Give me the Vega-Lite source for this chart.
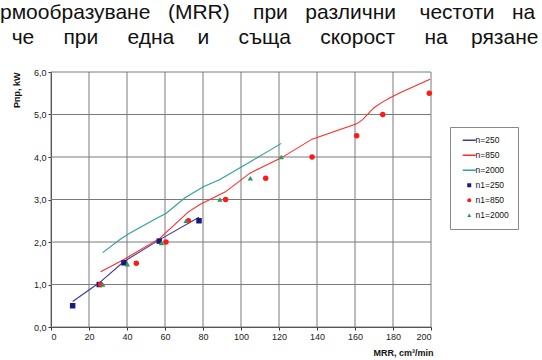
{
  "$schema": "https://vega.github.io/schema/vega-lite/v6.json",
  "width": 380,
  "height": 255,
  "autosize": "none",
  "padding": {"left": 51, "top": 72, "right": 111, "bottom": 33},
  "background": "white",
  "title": {
    "text": [
      "рмообразуване\u00a0\u00a0\u00a0(MRR)\u00a0\u00a0\u00a0\u00a0при\u00a0\u00a0\u00a0различни\u00a0\u00a0\u00a0\u00a0честоти\u00a0\u00a0\u00a0на",
      "\u200b\u00a0\u00a0че\u00a0\u00a0\u00a0\u00a0\u00a0при\u00a0\u00a0\u00a0\u00a0\u00a0една\u00a0\u00a0\u00a0\u00a0и\u00a0\u00a0\u00a0\u00a0\u00a0съща\u00a0\u00a0\u00a0\u00a0\u00a0скорост\u00a0\u00a0\u00a0\u00a0\u00a0на\u00a0\u00a0\u00a0\u00a0рязане"
    ],
    "anchor": "start",
    "frame": "group",
    "orient": "top",
    "dx": -51,
    "dy": -20,
    "offset": 0,
    "baseline": "top",
    "font": "Liberation Sans",
    "fontSize": 21,
    "fontWeight": "normal",
    "color": "#111",
    "lineHeight": 25
  },
  "data": {
    "values": [
      {"series": "n=250", "x": 11.4, "y": 0.6},
      {"series": "n=250", "x": 25.4, "y": 1.04},
      {"series": "n=250", "x": 38.4, "y": 1.54},
      {"series": "n=250", "x": 57.0, "y": 2.05},
      {"series": "n=250", "x": 77.9, "y": 2.58},
      {"series": "n=850", "x": 26.1, "y": 1.3},
      {"series": "n=850", "x": 38.4, "y": 1.59},
      {"series": "n=850", "x": 57.4, "y": 2.09},
      {"series": "n=850", "x": 60.5, "y": 2.22},
      {"series": "n=850", "x": 72.3, "y": 2.71},
      {"series": "n=850", "x": 78.4, "y": 2.88},
      {"series": "n=850", "x": 91.8, "y": 3.18},
      {"series": "n=850", "x": 104.7, "y": 3.62},
      {"series": "n=850", "x": 121.2, "y": 3.98},
      {"series": "n=850", "x": 137.4, "y": 4.42},
      {"series": "n=850", "x": 160.9, "y": 4.78},
      {"series": "n=850", "x": 164.0, "y": 4.88},
      {"series": "n=850", "x": 167.0, "y": 5.02},
      {"series": "n=850", "x": 170.0, "y": 5.16},
      {"series": "n=850", "x": 174.0, "y": 5.28},
      {"series": "n=850", "x": 178.0, "y": 5.38},
      {"series": "n=850", "x": 183.7, "y": 5.51},
      {"series": "n=850", "x": 199.5, "y": 5.83},
      {"series": "n=2000", "x": 27.2, "y": 1.75},
      {"series": "n=2000", "x": 36.3, "y": 2.06},
      {"series": "n=2000", "x": 40.7, "y": 2.19},
      {"series": "n=2000", "x": 55.6, "y": 2.56},
      {"series": "n=2000", "x": 60.5, "y": 2.67},
      {"series": "n=2000", "x": 70.5, "y": 3.04},
      {"series": "n=2000", "x": 80.2, "y": 3.3},
      {"series": "n=2000", "x": 88.9, "y": 3.47},
      {"series": "n=2000", "x": 106.5, "y": 3.93},
      {"series": "n=2000", "x": 121.2, "y": 4.32},
      {"series": "n1=250", "x": 11.4, "y": 0.5},
      {"series": "n1=250", "x": 25.4, "y": 1.0},
      {"series": "n1=250", "x": 38.4, "y": 1.51},
      {"series": "n1=250", "x": 57.0, "y": 2.02},
      {"series": "n1=250", "x": 77.9, "y": 2.5},
      {"series": "n1=850", "x": 26.1, "y": 1.0},
      {"series": "n1=850", "x": 44.9, "y": 1.5},
      {"series": "n1=850", "x": 60.5, "y": 2.0},
      {"series": "n1=850", "x": 72.3, "y": 2.5},
      {"series": "n1=850", "x": 91.9, "y": 3.0},
      {"series": "n1=850", "x": 113.0, "y": 3.5},
      {"series": "n1=850", "x": 137.4, "y": 4.0},
      {"series": "n1=850", "x": 160.9, "y": 4.5},
      {"series": "n1=850", "x": 174.6, "y": 5.0},
      {"series": "n1=850", "x": 199.1, "y": 5.5},
      {"series": "n1=2000", "x": 27.2, "y": 1.0},
      {"series": "n1=2000", "x": 40.2, "y": 1.48},
      {"series": "n1=2000", "x": 58.2, "y": 1.98},
      {"series": "n1=2000", "x": 71.1, "y": 2.5},
      {"series": "n1=2000", "x": 88.9, "y": 3.0},
      {"series": "n1=2000", "x": 104.9, "y": 3.5},
      {"series": "n1=2000", "x": 121.2, "y": 4.0}
    ]
  },
  "layer": [
    {
      "data": {"values": [{"x": 0}, {"x": 20}, {"x": 40}, {"x": 60}, {"x": 80}, {"x": 100}, {"x": 120}, {"x": 140}, {"x": 160}, {"x": 180}, {"x": 200}]},
      "mark": {"type": "rule", "color": "#7a7a7a", "strokeWidth": 1},
      "encoding": {
        "x": {
          "field": "x",
          "type": "quantitative",
          "scale": {"domain": [0, 200], "nice": false},
          "axis": {
            "grid": false,
            "values": [0, 20, 40, 60, 80, 100, 120, 140, 160, 180, 200],
            "format": "d",
            "tickSize": 3,
            "tickColor": "#333",
            "labelPadding": 2,
            "title": "MRR, cm³/min",
            "titleX": 382,
            "titleY": 25,
            "titleAlign": "right",
            "titleBaseline": "middle",
            "titleAngle": 0
          }
        }
      }
    },
    {
      "data": {"values": [{"y": 0}, {"y": 1}, {"y": 2}, {"y": 3}, {"y": 4}, {"y": 5}, {"y": 6}]},
      "mark": {"type": "rule", "color": "#7a7a7a", "strokeWidth": 1},
      "encoding": {
        "y": {
          "field": "y",
          "type": "quantitative",
          "scale": {"domain": [0, 6], "nice": false},
          "axis": {
            "grid": false,
            "values": [0, 1, 2, 3, 4, 5, 6],
            "labelExpr": "replace(format(datum.value, '.1f'), '.', ',')",
            "tickSize": 3,
            "tickColor": "#333",
            "labelPadding": 2,
            "title": "Рпр, kW",
            "titleAngle": -90,
            "titleX": -32,
            "titleY": 0,
            "titleAlign": "right",
            "titleBaseline": "alphabetic"
          }
        }
      }
    },
    {
      "transform": [{"filter": "indexof(['n=250','n=850','n=2000'], datum.series) >= 0"}],
      "mark": {"type": "line", "strokeWidth": 1.1},
      "encoding": {
        "x": {
          "field": "x",
          "type": "quantitative",
          "scale": {"domain": [0, 200], "nice": false},
          "axis": {
            "grid": false,
            "values": [0, 20, 40, 60, 80, 100, 120, 140, 160, 180, 200],
            "format": "d",
            "tickSize": 3,
            "tickColor": "#333",
            "labelPadding": 2,
            "title": "MRR, cm³/min",
            "titleX": 382,
            "titleY": 25,
            "titleAlign": "right",
            "titleBaseline": "middle",
            "titleAngle": 0
          }
        },
        "y": {
          "field": "y",
          "type": "quantitative",
          "scale": {"domain": [0, 6], "nice": false},
          "axis": {
            "grid": false,
            "values": [0, 1, 2, 3, 4, 5, 6],
            "labelExpr": "replace(format(datum.value, '.1f'), '.', ',')",
            "tickSize": 3,
            "tickColor": "#333",
            "labelPadding": 2,
            "title": "Рпр, kW",
            "titleAngle": -90,
            "titleX": -32,
            "titleY": 0,
            "titleAlign": "right",
            "titleBaseline": "alphabetic"
          }
        },
        "color": {
          "field": "series",
          "type": "nominal",
          "scale": {
            "domain": ["n=250", "n=850", "n=2000", "n1=250", "n1=850", "n1=2000"],
            "range": ["#3a3a9c", "#ff2a2a", "#2f9e9e", "#1a1a78", "#ff1a1a", "#2e9a5c"]
          },
          "legend": {
            "title": null,
            "orient": "none",
            "legendX": 399,
            "legendY": 55,
            "padding": 9,
            "symbolOffset": 6,
            "symbolSize": 170,
            "rowPadding": 6,
            "labelOffset": 2,
            "labelFont": "Liberation Sans",
            "labelFontSize": 8.5,
            "labelColor": "#111",
            "strokeColor": "#888",
            "fillColor": "white",
            "values": ["n=250", "n=850", "n=2000", "n1=250", "n1=850", "n1=2000"],
            "encode": {
              "symbols": {
                "update": {
                  "shape": {"signal": "datum.value == 'n1=250' ? 'square' : datum.value == 'n1=850' ? 'circle' : datum.value == 'n1=2000' ? 'triangle-up' : 'stroke'"},
                  "fill": {"signal": "indexof(['n=250','n=850','n=2000'], datum.value) >= 0 ? 'transparent' : scale('color', datum.value)"},
                  "stroke": {"signal": "scale('color', datum.value)"},
                  "strokeWidth": {"signal": "indexof(['n=250','n=850','n=2000'], datum.value) >= 0 ? 1.5 : 0"},
                  "size": {"signal": "indexof(['n=250','n=850','n=2000'], datum.value) >= 0 ? 170 : 16"},
                  "opacity": {"value": 1}
                }
              }
            }
          }
        }
      }
    },
    {
      "transform": [{"filter": "indexof(['n1=250','n1=850','n1=2000'], datum.series) >= 0"}],
      "mark": {"type": "point", "filled": true, "opacity": 1, "size": 30},
      "encoding": {
        "x": {
          "field": "x",
          "type": "quantitative",
          "scale": {"domain": [0, 200], "nice": false},
          "axis": {
            "grid": false,
            "values": [0, 20, 40, 60, 80, 100, 120, 140, 160, 180, 200],
            "format": "d",
            "tickSize": 3,
            "tickColor": "#333",
            "labelPadding": 2,
            "title": "MRR, cm³/min",
            "titleX": 382,
            "titleY": 25,
            "titleAlign": "right",
            "titleBaseline": "middle",
            "titleAngle": 0
          }
        },
        "y": {
          "field": "y",
          "type": "quantitative",
          "scale": {"domain": [0, 6], "nice": false},
          "axis": {
            "grid": false,
            "values": [0, 1, 2, 3, 4, 5, 6],
            "labelExpr": "replace(format(datum.value, '.1f'), '.', ',')",
            "tickSize": 3,
            "tickColor": "#333",
            "labelPadding": 2,
            "title": "Рпр, kW",
            "titleAngle": -90,
            "titleX": -32,
            "titleY": 0,
            "titleAlign": "right",
            "titleBaseline": "alphabetic"
          }
        },
        "color": {
          "field": "series",
          "type": "nominal",
          "scale": {
            "domain": ["n=250", "n=850", "n=2000", "n1=250", "n1=850", "n1=2000"],
            "range": ["#3a3a9c", "#ff2a2a", "#2f9e9e", "#1a1a78", "#ff1a1a", "#2e9a5c"]
          },
          "legend": {
            "title": null,
            "orient": "none",
            "legendX": 399,
            "legendY": 55,
            "padding": 9,
            "symbolOffset": 6,
            "symbolSize": 170,
            "rowPadding": 6,
            "labelOffset": 2,
            "labelFont": "Liberation Sans",
            "labelFontSize": 8.5,
            "labelColor": "#111",
            "strokeColor": "#888",
            "fillColor": "white",
            "values": ["n=250", "n=850", "n=2000", "n1=250", "n1=850", "n1=2000"],
            "encode": {
              "symbols": {
                "update": {
                  "shape": {"signal": "datum.value == 'n1=250' ? 'square' : datum.value == 'n1=850' ? 'circle' : datum.value == 'n1=2000' ? 'triangle-up' : 'stroke'"},
                  "fill": {"signal": "indexof(['n=250','n=850','n=2000'], datum.value) >= 0 ? 'transparent' : scale('color', datum.value)"},
                  "stroke": {"signal": "scale('color', datum.value)"},
                  "strokeWidth": {"signal": "indexof(['n=250','n=850','n=2000'], datum.value) >= 0 ? 1.5 : 0"},
                  "size": {"signal": "indexof(['n=250','n=850','n=2000'], datum.value) >= 0 ? 170 : 16"},
                  "opacity": {"value": 1}
                }
              }
            }
          }
        },
        "shape": {
          "field": "series",
          "type": "nominal",
          "scale": {
            "domain": ["n1=250", "n1=850", "n1=2000"],
            "range": ["square", "circle", "triangle-up"]
          },
          "legend": null
        }
      }
    }
  ],
  "config": {
    "view": {"stroke": null},
    "axis": {
      "domainColor": "#333",
      "domainWidth": 1,
      "labelFont": "Liberation Sans",
      "labelFontSize": 9,
      "labelColor": "#222",
      "titleFont": "Liberation Sans",
      "titleFontSize": 9,
      "titleFontWeight": "bold",
      "titleColor": "#111"
    }
  }
}
